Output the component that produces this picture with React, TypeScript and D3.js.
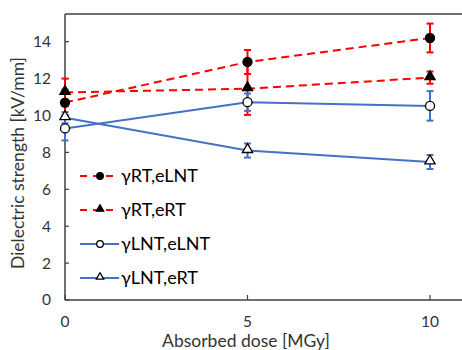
import { useMemo } from 'react';
import * as d3 from 'd3';

const doses = [0, 5, 10];

const rtLntValues = [10.7, 12.9, 14.2];
const rtLntErrors = [0.7, 0.65, 0.78];
const rtRtValues = [11.25, 11.45, 12.05];
const rtRtErrors = [0.75, 1.42, 0.33];
const lntLntValues = [9.3, 10.72, 10.52];
const lntLntErrors = [0.65, 0.47, 0.8];
const lntRtValues = [9.88, 8.1, 7.48];
const lntRtErrors = [0.3, 0.38, 0.38];

const yTicks = [0, 2, 4, 6, 8, 10, 12, 14];
const xTicks = [0, 5, 10];

type Series = {
  name: string;
  values: number[];
  errors: number[];
  color: string;
  dashed: boolean;
  marker: 'circle' | 'triangle';
  filled: boolean;
};

const series: Series[] = [
  { name: 'γRT,eLNT', values: rtLntValues, errors: rtLntErrors, color: '#FF0000', dashed: true, marker: 'circle', filled: true },
  { name: 'γRT,eRT', values: rtRtValues, errors: rtRtErrors, color: '#FF0000', dashed: true, marker: 'triangle', filled: true },
  { name: 'γLNT,eLNT', values: lntLntValues, errors: lntLntErrors, color: '#4472C4', dashed: false, marker: 'circle', filled: false },
  { name: 'γLNT,eRT', values: lntRtValues, errors: lntRtErrors, color: '#4472C4', dashed: false, marker: 'triangle', filled: false },
];

const font = 'Lato, "Open Sans", sans-serif';

const Marker = ({ s, cx, cy, small }: { s: Series; cx: number; cy: number; small?: boolean }) => {
  const fill = s.filled ? '#000' : '#fff';
  if (s.marker === 'circle') {
    return <circle cx={cx} cy={cy} r={small ? 3.3 : 4.5} fill={fill} stroke="#000" strokeWidth={1.3} />;
  }
  const tri = d3.symbol(d3.symbolTriangle, small ? 24 : 46)();
  return <path d={tri!} transform={`translate(${cx},${cy - 1})`} fill={fill} stroke="#000" strokeWidth={1.3} />;
};

export default function App() {
  const width = 462;
  const height = 350;
  const margin = { top: 14, left: 65, bottom: 50 };

  const x = useMemo(() => d3.scaleLinear().domain([0, 10]).range([margin.left, 430]), []);
  const y = useMemo(() => d3.scaleLinear().domain([0, 15.5]).range([height - margin.bottom, margin.top]), []);

  const line = d3
    .line<number>()
    .x((_, i) => x(doses[i]))
    .y((d) => y(d));

  const axisColor = '#404040';
  const legendRows = [176, 210, 244, 278];

  return (
    <svg width={width} height={height} style={{ position: 'absolute', left: 0, top: 0 }}>
      <rect width={width} height={height} fill="#fff" />
      {/* frame */}
      <line x1={margin.left} x2={width} y1={margin.top} y2={margin.top} stroke={axisColor} strokeWidth={1.5} />
      <line x1={margin.left} x2={margin.left} y1={margin.top} y2={y(0)} stroke={axisColor} strokeWidth={1.5} />
      <line x1={margin.left} x2={width} y1={y(0)} y2={y(0)} stroke={axisColor} strokeWidth={1.5} />
      {yTicks.map((t) => (
        <g key={t}>
          <line x1={margin.left} x2={margin.left + 4} y1={y(t)} y2={y(t)} stroke={axisColor} strokeWidth={1.2} />
          <text x={51} y={y(t)} dy="0.35em" textAnchor="end" fontFamily={font} fontSize={15.5} fill="#333">
            {t}
          </text>
        </g>
      ))}
      {xTicks.map((t) => (
        <g key={t}>
          <line x1={x(t)} x2={x(t)} y1={y(0)} y2={y(0) - 5} stroke={axisColor} strokeWidth={1.2} />
          <text x={x(t)} y={322} dy="0.35em" textAnchor="middle" fontFamily={font} fontSize={15.5} fill="#333">
            {t}
          </text>
        </g>
      ))}
      <text x={246} y={341} dy="0.35em" textAnchor="middle" fontFamily={font} fontSize={17.5} fill="#333">
        Absorbed dose [MGy]
      </text>
      <text
        transform={`translate(18,${163}) rotate(-90)`}
        dy="0.35em"
        textAnchor="middle"
        fontFamily={font}
        fontSize={17.5}
        fill="#333"
      >
        Dielectric strength [kV/mm]
      </text>

      {/* lines */}
      {series.map((s) => (
        <path
          key={s.name + 'line'}
          d={line(s.values)!}
          fill="none"
          stroke={s.color}
          strokeWidth={2}
          strokeDasharray={s.dashed ? '8 5' : undefined}
        />
      ))}
      {/* error bars */}
      {series.map((s) =>
        s.values.map((v, i) => {
          const cx = x(doses[i]);
          const lo = y(v - s.errors[i]);
          const hi = y(v + s.errors[i]);
          return (
            <g key={s.name + 'err' + i} stroke={s.color} strokeWidth={2}>
              <line x1={cx} x2={cx} y1={lo} y2={hi} />
              <line x1={cx - 3.5} x2={cx + 3.5} y1={lo} y2={lo} />
              <line x1={cx - 3.5} x2={cx + 3.5} y1={hi} y2={hi} />
            </g>
          );
        }),
      )}
      {/* markers */}
      {series.map((s) =>
        s.values.map((v, i) => <Marker key={s.name + 'm' + i} s={s} cx={x(doses[i])} cy={y(v)} />),
      )}

      {/* legend */}
      {series.map((s, i) => {
        const ly = legendRows[i];
        return (
          <g key={s.name + 'legend'}>
            <line
              x1={80}
              x2={119}
              y1={ly}
              y2={ly}
              stroke={s.color}
              strokeWidth={2}
              strokeDasharray={s.dashed ? '7 6' : undefined}
            />
            <Marker s={s} cx={100} cy={ly} small />
            <text x={121} y={ly} dy="0.35em" fontFamily={font} fontSize={18} fill="#000">
              {s.name}
            </text>
          </g>
        );
      })}
    </svg>
  );
}
